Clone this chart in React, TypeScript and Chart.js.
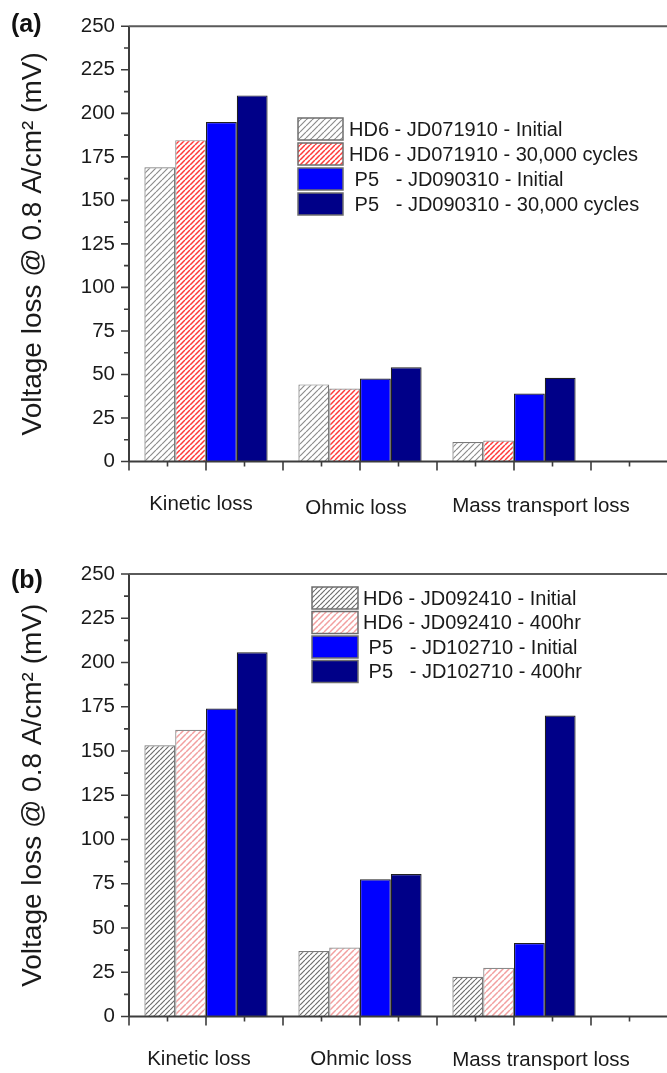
import React, { useEffect, useRef } from 'react';
import { Chart, registerables } from 'chart.js';

Chart.register(...registerables);

// ---------- data ----------
const categories = ['Kinetic loss', 'Ohmic loss', 'Mass transport loss'];
const yTickValues = [0, 25, 50, 75, 100, 125, 150, 175, 200, 225, 250];
const yTitle = 'Voltage loss @ 0.8 A/cm\u00B2 (mV)';

// panel (a)
const labelsA = [
  'HD6 - JD071910 - Initial',
  'HD6 - JD071910 - 30,000 cycles',
  ' P5   - JD090310 - Initial',
  ' P5   - JD090310 - 30,000 cycles',
];
const aHd6Initial = [169, 44.3, 11.2];
const aHd6Cycles = [184.6, 41.9, 12];
const aP5Initial = [195, 47.7, 39];
const aP5Cycles = [210.3, 54.1, 48.1];

// panel (b)
const labelsB = [
  'HD6 - JD092410 - Initial',
  'HD6 - JD092410 - 400hr',
  ' P5   - JD102710 - Initial',
  ' P5   - JD102710 - 400hr',
];
const bHd6Initial = [153.2, 37, 22.5];
const bHd6Hours = [162, 39, 27.5];
const bP5Initial = [174, 77.5, 41.5];
const bP5Hours = [205.8, 80.5, 170];

const FONT = '"Liberation Sans", Arial, Helvetica, sans-serif';

function hatch(color: string, size: number, lw: number) {
  const c = document.createElement('canvas');
  c.width = size;
  c.height = size;
  const g = c.getContext('2d')!;
  g.fillStyle = '#ffffff';
  g.fillRect(0, 0, size, size);
  g.strokeStyle = color;
  g.lineWidth = lw;
  g.beginPath();
  for (const k of [-1, 0, 1]) {
    g.moveTo(k * size, size);
    g.lineTo(k * size + size, 0);
  }
  g.stroke();
  return g.createPattern(c, 'repeat')!;
}

const axesPlugin = {
  id: 'originAxes',
  afterDraw(chart: any, _args: any, opts: any) {
    const { ctx, chartArea } = chart;
    const xs = chart.scales.x;
    const ys = chart.scales.y;
    ctx.save();
    ctx.strokeStyle = '#3c3c3c';
    ctx.lineWidth = 2;
    ctx.beginPath();
    ctx.moveTo(chartArea.left, chartArea.top);
    ctx.lineTo(chartArea.left, chartArea.bottom);
    ctx.moveTo(chartArea.left, chartArea.bottom);
    ctx.lineTo(chartArea.right, chartArea.bottom);
    ctx.stroke();
    ctx.strokeStyle = '#5a5a5a';
    ctx.beginPath();
    ctx.moveTo(chartArea.left, chartArea.top);
    ctx.lineTo(chartArea.right, chartArea.top);
    ctx.stroke();
    ctx.strokeStyle = '#3c3c3c';
    ctx.lineWidth = 1.6;
    ctx.beginPath();
    for (let v = ys.min; v <= ys.max + 0.001; v += 12.5) {
      const py = ys.getPixelForValue(v);
      const len = Math.abs(v % 25) < 0.001 ? 8 : 5;
      ctx.moveTo(chartArea.left, py);
      ctx.lineTo(chartArea.left - len, py);
    }
    for (let v = xs.min; v <= xs.max + 0.001; v += 0.25) {
      const px = xs.getPixelForValue(v);
      const len = Math.abs((v * 2) % 1) < 0.001 ? 9 : 5;
      ctx.moveTo(px, chartArea.bottom);
      ctx.lineTo(px, chartArea.bottom + len);
    }
    ctx.stroke();
    // category labels (as placed in the original figure)
    ctx.fillStyle = '#1a1a1a';
    ctx.font = `20.5px ${FONT}`;
    ctx.textAlign = 'center';
    ctx.textBaseline = 'alphabetic';
    categories.forEach((c, i) => {
      const px = xs.getPixelForValue(i + 1) + (opts.shift?.[i] ?? 0);
      ctx.fillText(c, px, chartArea.bottom + opts.labelDy + (opts.dy?.[i] ?? 0));
    });
    ctx.restore();
  },
};

const legendPlugin = {
  id: 'boxLegend',
  afterDatasetsDraw(chart: any, _args: any, opts: any) {
    const { ctx } = chart;
    ctx.save();
    ctx.font = `20px ${FONT}`;
    ctx.textBaseline = 'middle';
    ctx.textAlign = 'left';
    chart.data.datasets.forEach((ds: any, i: number) => {
      const top = opts.y + i * opts.pitch;
      ctx.fillStyle = ds.backgroundColor;
      ctx.fillRect(opts.x, top, opts.w, opts.h);
      ctx.strokeStyle = '#6e6e6e';
      ctx.lineWidth = 1.5;
      ctx.strokeRect(opts.x, top, opts.w, opts.h);
      ctx.fillStyle = '#1a1a1a';
      ctx.fillText(ds.label, opts.textX, top + opts.h / 2 + 1);
    });
    ctx.restore();
  },
};

type PanelProps = {
  width: number;
  height: number;
  top: number;
  areaTop: number;
  areaBottom: number;
  labels: string[];
  series: number[][];
  redColor: string;
  redSize: number;
  grayColor: string;
  graySize: number;
  legend: { x: number; y: number; w: number; h: number; pitch: number; textX: number };
  axisText: { shift: number[]; dy: number[]; labelDy: number };
  tag: string;
  tagTop: number;
};

function Panel(p: PanelProps) {
  const ref = useRef<HTMLCanvasElement | null>(null);
  useEffect(() => {
    if (!ref.current) return;
    const fills = [
      hatch(p.grayColor, p.graySize, 1.2),
      hatch(p.redColor, p.redSize, 1.5),
      '#0000ff',
      '#000088',
    ];
    const borders = ['#7a7a7a', '#8a8a8a', '#202020', '#202020'];
    const tickFont = { family: FONT, size: 20.5 };
    const chart = new Chart(ref.current, {
      type: 'bar',
      data: {
        datasets: p.series.map((vals, i) => ({
          label: p.labels[i],
          data: vals.map((v, j) => ({ x: j + 1, y: v })),
          backgroundColor: fills[i] as any,
          borderColor: borders[i],
          borderWidth: 1.2,
          borderSkipped: 'bottom',
          categoryPercentage: 0.8,
          barPercentage: 1.0,
        })),
      },
      options: {
        animation: false,
        responsive: false,
        maintainAspectRatio: false,
        layout: { padding: { top: p.areaTop, right: p.width - 745, left: 0, bottom: 0 } },
        plugins: {
          legend: { display: false },
          tooltip: { enabled: false },
          boxLegend: p.legend,
          originAxes: p.axisText,
        } as any,
        scales: {
          x: {
            type: 'linear',
            min: 0.5,
            max: 4.5,
            offset: false,
            grid: { display: false, drawTicks: false },
            border: { display: false },
            afterBuildTicks: (s: any) => {
              s.ticks = categories.map((_, i) => ({ value: i + 1 }));
            },
            afterFit: (s: any) => {
              s.height = p.height - p.areaBottom;
            },
            ticks: { display: false },
          },
          y: {
            min: 0,
            max: 250,
            grid: { display: false, drawTicks: false },
            border: { display: false },
            afterBuildTicks: (s: any) => {
              s.ticks = yTickValues.map((v) => ({ value: v }));
            },
            afterFit: (s: any) => {
              s.width = 129;
            },
            ticks: { padding: 14, color: '#1a1a1a', font: tickFont },
            title: {
              display: true,
              text: yTitle,
              color: '#1a1a1a',
              font: { family: FONT, size: 28 },
              padding: { top: 16, bottom: 0 },
            },
          },
        },
      },
      plugins: [axesPlugin, legendPlugin],
    } as any);
    return () => chart.destroy();
  }, []);
  return (
    <div style={{ position: 'absolute', left: 0, top: p.top, width: 667, height: p.height, overflow: 'hidden' }}>
      <canvas ref={ref} width={p.width} height={p.height} style={{ width: p.width, height: p.height, display: 'block' }} />
      <div
        style={{
          position: 'absolute',
          left: 11,
          top: p.tagTop,
          font: `bold 25px ${FONT}`,
          color: '#111',
          lineHeight: '28px',
        }}
      >
        {p.tag}
      </div>
    </div>
  );
}

export default function App() {
  return (
    <div style={{ position: 'absolute', left: 0, top: 0, width: 667, height: 1073, overflow: 'hidden', background: '#fff' }}>
      <Panel
        width={760}
        height={530}
        top={0}
        areaTop={21}
        areaBottom={461.5}
        labels={labelsA}
        series={[aHd6Initial, aHd6Cycles, aP5Initial, aP5Cycles]}
        grayColor="#8c8c8c"
        graySize={6}
        redColor="#ff3a3a"
        redSize={5}
        legend={{ x: 298, y: 118, w: 45, h: 22, pitch: 25, textX: 349 }}
        axisText={{ shift: [-5, -4, 27], dy: [0, 4, 2], labelDy: 48.5 }}
        tag="(a)"
        tagTop={9}
      />
      <Panel
        width={760}
        height={543}
        top={530}
        areaTop={44}
        areaBottom={486.5}
        labels={labelsB}
        series={[bHd6Initial, bHd6Hours, bP5Initial, bP5Hours]}
        grayColor="#6e6e6e"
        graySize={5}
        redColor="#f2a0a0"
        redSize={6}
        legend={{ x: 312, y: 57, w: 46, h: 22, pitch: 24.5, textX: 363 }}
        axisText={{ shift: [-7, 1, 27], dy: [0, 0, 1], labelDy: 48.5 }}
        tag="(b)"
        tagTop={35}
      />
    </div>
  );
}
